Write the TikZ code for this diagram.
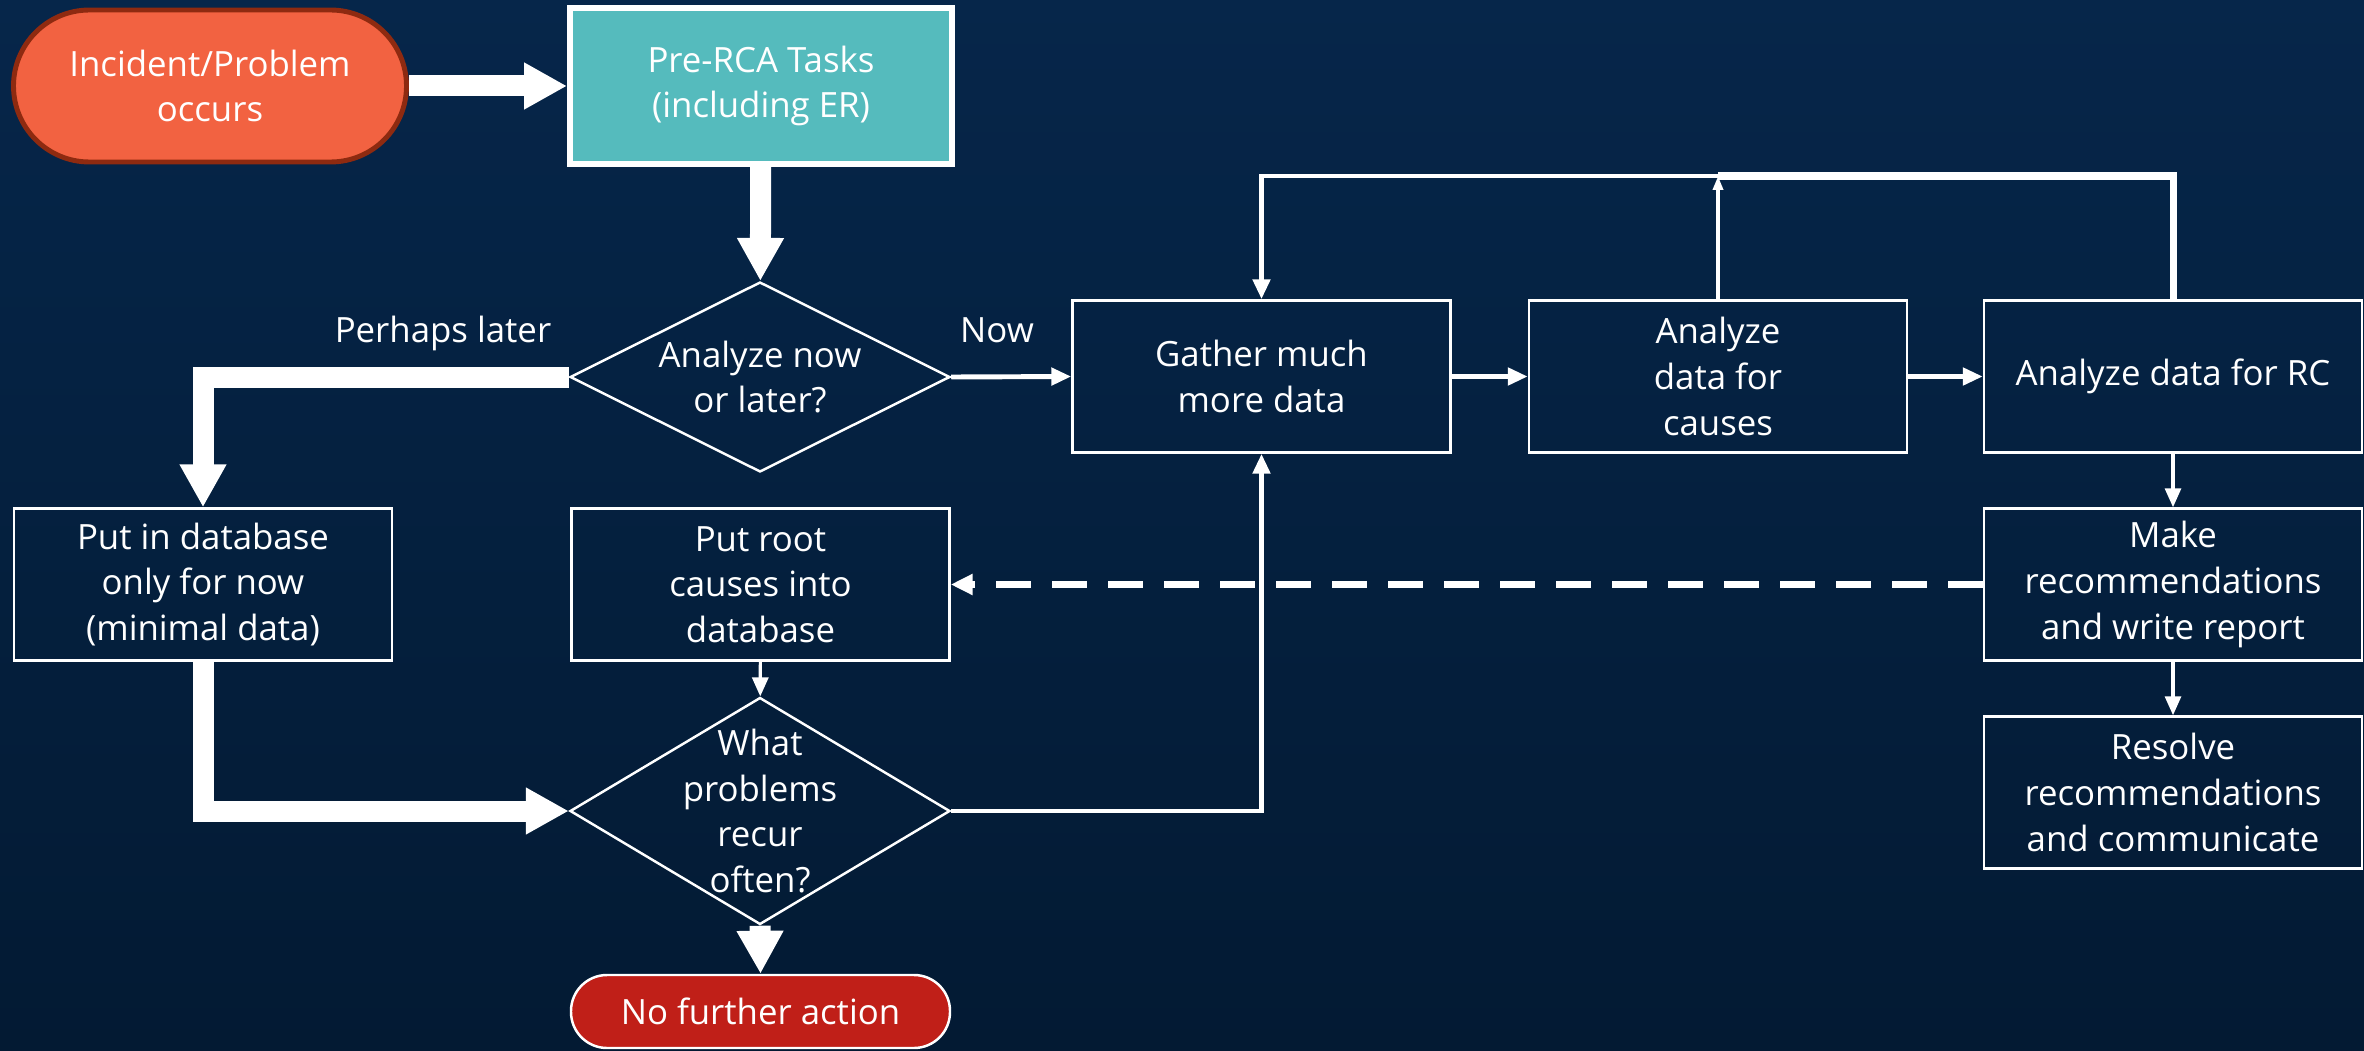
\documentclass[tikz,border=0pt]{standalone}
\usepackage{fontspec}
\setmainfont{Open Sans}
\usetikzlibrary{shapes.geometric,arrows.meta}

\definecolor{bgtop}{HTML}{06264A}
\definecolor{bgbot}{HTML}{031A33}
\definecolor{incfill}{HTML}{F26241}
\definecolor{incline}{HTML}{8E2A10}
\definecolor{taskfill}{HTML}{55BBBD}
\definecolor{stopfill}{HTML}{C01F18}

\begin{document}
\begin{tikzpicture}[
    every node/.style={text=white, align=center, font=\fontsize{9.9}{13}\selectfont},
    box/.style={draw=white, line width=0.7pt, minimum width=3.78cm, minimum height=1.52cm, inner sep=2pt},
    choice/.style={draw=white, line width=0.7pt, diamond, inner sep=0pt, minimum width=3.8cm},
    fat/.style={draw=white, line width=0.21cm, -{Triangle[width=0.44cm,length=0.43cm]}},
    flow/.style={draw=white, line width=1.4pt, -{Triangle[width=0.17cm,length=0.2cm]}},
    thin/.style={draw=white, line width=0.9pt, -{Triangle[width=0.16cm,length=0.19cm]}},
    backlink/.style={draw=white, line width=0.07cm, dash pattern=on 0.35cm off 0.21cm, -{Triangle[width=0.2cm,length=0.22cm]}}
  ]
    \useasboundingbox (0,0) rectangle (23.64,-10.51);
    \fill[top color=bgtop, bottom color=bgbot] (0,0) rectangle (23.64,-10.51);

    % Start
    \node (incident) at (2.10,-0.86) [fill=incfill, draw=incline, line width=1.4pt, rounded corners=0.76cm,
        minimum width=3.93cm, minimum height=1.52cm] {Incident/Problem\\occurs};
    \node (prerca) at (7.61,-0.86) [fill=taskfill, draw=white, line width=1.7pt,
        minimum width=3.82cm, minimum height=1.56cm] {Pre-RCA Tasks\\(including ER)};

    % Decisions
    \node (when) at (7.60,-3.77) [choice, minimum height=1.9cm,
        label=center:{Analyze now\\or later?}] {};
    \node (recur) at (7.60,-8.11) [choice, minimum height=2.27cm,
        label=center:{What\\problems\\recur\\often?}] {};
    \node (laterlbl) at (4.43,-3.33) {Perhaps later};
    \node (nowlbl) at (9.97,-3.30) {Now};

    % Left column
    \node (putdb) at (2.03,-5.845) [box] {Put in database\\only for now\\(minimal data)};
    \node (putroot) at (7.605,-5.845) [box] {Put root\\causes into\\database};
    \node (nofurther) at (7.605,-10.115) [fill=stopfill, draw=white, line width=0.7pt, rounded corners=0.36cm,
        minimum width=3.79cm, minimum height=0.73cm] {No further action};

    % Analysis row
    \node (gather) at (12.615,-3.765) [box] {Gather much\\more data};
    \node (causes) at (17.18,-3.765) [box] {Analyze\\data for\\causes};
    \node (rc) at (21.73,-3.765) [box] {Analyze data for RC};
    \node (make) at (21.73,-5.845) [box] {Make\\recommendations\\and write report};
    \node (resolve) at (21.73,-7.925) [box] {Resolve\\recommendations\\and communicate};
    \coordinate (looptop) at (0,-1.76);

    % Arrows
    \draw[fat] (incident) -- (prerca);
    \draw[fat] (prerca) -- (when);
    \draw[fat] (when.west) -| (putdb.north);
    \draw[fat] (putdb.south) |- (recur.west);
    \draw[fat] (recur.south) -- (nofurther.north);
    \draw[thin] (putroot) -- (recur);

    \draw[flow] (when.east) -- (gather.west);
    \draw[flow] (gather) -- (causes);
    \draw[flow] (causes) -- (rc);
    \draw[flow] (recur.east) -| (gather.south);
    \draw[draw=white, line width=2pt] (rc.north) -- (rc.north |- looptop) -- (causes.north |- looptop);
    \draw[flow] (causes.north |- looptop) -| (gather.north);
    \draw[draw=white, line width=1.1pt, -{Triangle[width=0.1cm,length=0.14cm]}]
        (causes.north) -- (causes.north |- looptop);
    \draw[thin] (rc) -- (make);
    \draw[thin] (make) -- (resolve);
    \draw[backlink] (make.west) -- (putroot.east);
\end{tikzpicture}
\end{document}
